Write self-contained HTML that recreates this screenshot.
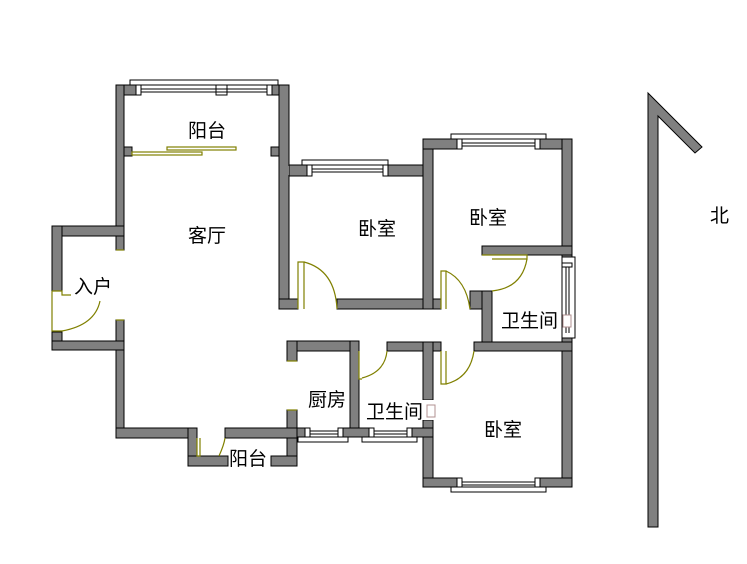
<!DOCTYPE html>
<html><head><meta charset="utf-8"><style>
html,body{margin:0;padding:0;background:#fff;width:747px;height:564px;overflow:hidden}
text{font-family:"Liberation Sans","Noto Sans CJK SC",sans-serif;font-size:19px;fill:#000}
</style></head><body>
<svg width="747" height="564" viewBox="0 0 747 564" xmlns="http://www.w3.org/2000/svg">
<g fill="#808080" stroke="#000" stroke-width="1">
<rect x="116" y="85" width="20" height="10"/>
<rect x="272" y="85" width="17" height="10"/>
<rect x="116" y="85" width="8" height="165"/>
<rect x="124" y="147" width="8" height="9"/>
<rect x="271" y="147" width="8" height="9"/>
<rect x="279" y="85" width="10" height="224"/>
<rect x="289" y="165" width="18" height="11"/>
<rect x="388" y="165" width="45" height="11"/>
<rect x="279" y="299" width="19" height="10"/>
<rect x="337" y="299" width="104" height="10"/>
<rect x="423" y="139" width="10" height="170"/>
<rect x="423" y="139" width="34" height="10"/>
<rect x="540" y="139" width="32" height="10"/>
<rect x="562" y="139" width="10" height="127"/>
<rect x="482" y="246" width="90" height="9"/>
<rect x="470" y="291" width="22" height="18"/>
<rect x="482" y="291" width="10" height="60"/>
<rect x="562" y="333" width="10" height="154"/>
<rect x="474" y="342" width="98" height="9"/>
<rect x="387" y="342" width="54" height="9"/>
<rect x="423" y="342" width="10" height="58"/>
<rect x="423" y="420" width="10" height="67"/>
<rect x="423" y="478" width="34" height="9"/>
<rect x="540" y="478" width="32" height="9"/>
<rect x="287" y="341" width="72" height="10"/>
<rect x="287" y="341" width="10" height="20"/>
<rect x="350" y="341" width="9" height="96"/>
<rect x="287" y="410" width="10" height="56"/>
<rect x="280" y="428" width="25" height="9"/>
<rect x="343" y="428" width="26" height="9"/>
<rect x="412" y="428" width="21" height="9"/>
<rect x="116" y="320" width="8" height="118"/>
<rect x="116" y="428" width="81" height="10"/>
<rect x="225" y="428" width="72" height="10"/>
<rect x="188" y="428" width="9" height="38"/>
<rect x="188" y="456" width="40" height="10"/>
<rect x="271" y="456" width="26" height="10"/>
<rect x="52" y="226" width="72" height="10"/>
<rect x="52" y="226" width="10" height="65"/>
<rect x="52" y="332" width="10" height="18"/>
<rect x="52" y="341" width="72" height="9"/>
<polygon points="648,93 702,147 695,153 658,116 658,527 648,527"/>
</g>
<g fill="#808080">
<rect x="117" y="227" width="6" height="8"/><rect x="117" y="342" width="6" height="7"/>
<rect x="280" y="166" width="9" height="9"/><rect x="280" y="300" width="9" height="8"/>
<rect x="424" y="140" width="8" height="8"/><rect x="424" y="166" width="8" height="9"/>
<rect x="424" y="300" width="8" height="8"/><rect x="563" y="140" width="8" height="8"/>
<rect x="563" y="247" width="8" height="7"/><rect x="483" y="292" width="8" height="16"/>
<rect x="563" y="343" width="8" height="7"/><rect x="424" y="343" width="8" height="7"/>
<rect x="424" y="479" width="8" height="7"/><rect x="563" y="479" width="8" height="7"/>
<rect x="288" y="342" width="8" height="8"/><rect x="351" y="342" width="7" height="8"/>
<rect x="351" y="429" width="7" height="7"/><rect x="288" y="429" width="8" height="7"/>
<rect x="117" y="429" width="6" height="8"/><rect x="189" y="429" width="7" height="8"/>
<rect x="189" y="457" width="7" height="8"/><rect x="288" y="457" width="8" height="8"/>
<rect x="53" y="227" width="8" height="8"/><rect x="53" y="342" width="8" height="7"/>
<rect x="117" y="86" width="6" height="8"/><rect x="280" y="86" width="8" height="8"/>
<rect x="424" y="429" width="8" height="7"/>
</g>
<g fill="#fff" stroke="#000" stroke-width="1">
<rect x="130" y="80" width="148" height="5"/>
<rect x="136" y="85" width="5" height="10"/><rect x="267" y="85" width="5" height="10"/>
<rect x="216" y="85" width="11" height="10"/>
<line x1="141" y1="89" x2="267" y2="89"/><line x1="141" y1="92" x2="267" y2="92"/>
<rect x="302" y="160" width="86" height="5"/>
<rect x="307" y="165" width="5" height="11"/><rect x="383" y="165" width="5" height="11"/>
<line x1="312" y1="169" x2="383" y2="169"/><line x1="312" y1="172" x2="383" y2="172"/>
<rect x="451" y="134" width="95" height="5"/>
<rect x="457" y="139" width="5" height="10"/><rect x="535" y="139" width="5" height="10"/>
<line x1="462" y1="143" x2="535" y2="143"/><line x1="462" y1="146" x2="535" y2="146"/>
<rect x="451" y="487" width="95" height="5"/>
<rect x="457" y="478" width="5" height="9"/><rect x="535" y="478" width="5" height="9"/>
<line x1="462" y1="482" x2="535" y2="482"/><line x1="462" y1="485" x2="535" y2="485"/>
<rect x="562" y="257" width="13" height="81"/>
<rect x="562" y="263" width="10" height="4"/>
<line x1="566" y1="267" x2="566" y2="333"/><line x1="569" y1="267" x2="569" y2="333"/>
<rect x="298" y="437" width="50" height="5"/>
<rect x="305" y="428" width="5" height="9"/><rect x="338" y="428" width="5" height="9"/>
<line x1="310" y1="431" x2="338" y2="431"/><line x1="310" y1="434" x2="338" y2="434"/>
<rect x="362" y="437" width="55" height="5"/>
<rect x="369" y="428" width="5" height="9"/><rect x="407" y="428" width="5" height="9"/>
<line x1="374" y1="431" x2="407" y2="431"/><line x1="374" y1="434" x2="407" y2="434"/>
</g>
<g fill="none" stroke="#808000" stroke-width="1.2">
<rect x="132" y="152" width="70" height="3"/>
<rect x="167" y="147" width="69" height="3"/>
<line x1="116" y1="250" x2="124" y2="250"/><line x1="116" y1="320" x2="124" y2="320"/>
<path d="M52,291 H62 V295 H71"/><path d="M52,291 V331 H62"/>
<path d="M62,331 Q95,325 100,301"/>
<path d="M298,309 V262 H304 V309"/><path d="M304,262 Q335,270 337,309"/>
<path d="M441,309 V271 H446 V309"/><path d="M446,271 Q466,280 470,309"/>
<path d="M482,255 H527 V259 H492"/><path d="M527,259 Q522,288 492,291"/>
<path d="M359,351 V379 H362"/><path d="M362,378 Q385,372 387,351"/>
<path d="M441,351 V384 H446 V351"/><path d="M446,384 Q470,378 474,351"/>
<line x1="287" y1="361" x2="297" y2="361"/><line x1="287" y1="410" x2="297" y2="410"/>
<path d="M197,438 V456 H200 V438"/><path d="M219,456 Q224,445 225,438"/>
</g>
<rect x="416" y="400" width="22" height="20" fill="#fff"/>
<g>
<text x="188" y="137">阳台</text>
<text x="188" y="242">客厅</text>
<text x="358" y="235">卧室</text>
<text x="469" y="224">卧室</text>
<text x="484" y="436">卧室</text>
<text x="501" y="327">卫生间</text>
<text x="366" y="418">卫生间</text>
<text x="308" y="406">厨房</text>
<text x="74" y="293">入户</text>
<text x="229" y="465">阳台</text>
<text x="710" y="222">北</text>
</g>
<g fill="#fff" stroke="#b09090" stroke-width="1">
<rect x="563" y="315" width="8" height="12"/>
<rect x="427" y="405" width="8" height="12"/>
</g>
</svg>
</body></html>
